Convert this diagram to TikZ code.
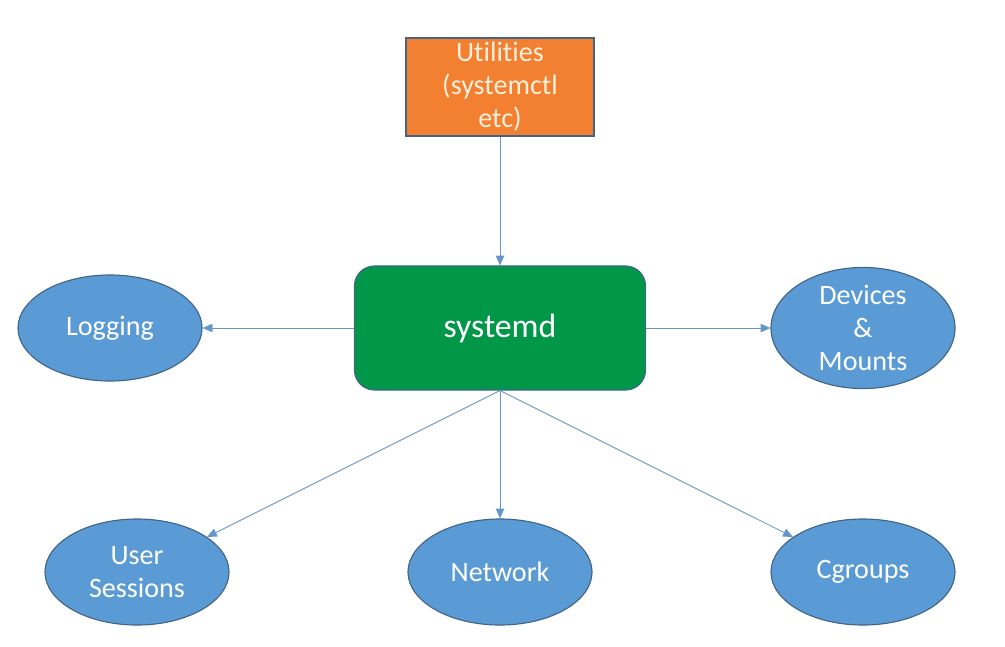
\documentclass[tikz,border=0pt]{standalone}
\usepackage{fontspec}
\setmainfont{Carlito}[Ligatures=NoCommon]
\usepackage{xcolor}
\usepackage{tikz}
\usetikzlibrary{arrows.meta}
\usetikzlibrary{shapes.geometric}
\definecolor{utilorange}{RGB}{242,128,48}
\definecolor{coregreen}{RGB}{0,152,72}
\definecolor{leafblue}{RGB}{91,155,213}
\definecolor{borderblue}{RGB}{65,100,135}
\definecolor{lineblue}{RGB}{100,150,205}
\definecolor{creamtext}{RGB}{255,240,220}
\tikzset{
    tnode/.style = {align=center, inner sep=0pt, text centered, font=\fontsize{20}{23.5}\selectfont},
    util_node/.style = {tnode, rectangle, creamtext, draw=borderblue, fill=utilorange, minimum width=4.7cm, minimum height=2.45cm, line width=0.8pt},
    core_node/.style = {tnode, rectangle, rounded corners=0.5cm, white, draw=borderblue, fill=coregreen, minimum width=7.275cm, minimum height=3.1cm, line width=0.8pt, font=\fontsize{24}{28}\selectfont},
    leaf_node/.style = {tnode, ellipse, white, draw=borderblue, fill=leafblue, minimum width=4.6cm, minimum height=2.65cm, line width=0.8pt},
    link/.style = {->, draw=lineblue, line width=0.6pt}
}

\begin{document}
\begin{tikzpicture}
            [>={Triangle[length=7pt, width=6pt]}, x=0.025cm, y=-0.025cm]

            \useasboundingbox (0,0) rectangle (1005,646);

            % top and centre
            \node [util_node] (utilities) at (500,87) {Utilities\\(systemctl\\etc)};
            \node [core_node] (systemd) at (500,328) {systemd};

            % services around systemd
            \node [leaf_node] (logging) at (110,328) {Logging};
            \node [leaf_node] (devices) at (863,328) {Devices\\\&\\Mounts};
            \node [leaf_node] (sessions) at (137,572) {User\\Sessions};
            \node [leaf_node] (network) at (500,572) {Network};
            \node [leaf_node] (cgroups) at (863,572) {Cgroups};

            \draw [link] (utilities) -- (systemd);
            \draw [link] (systemd) -- (logging);
            \draw [link] (systemd) -- (devices);
            \draw [link] (systemd.south) -- (sessions);
            \draw [link] (systemd.south) -- (network);
            \draw [link] (systemd.south) -- (cgroups);
        \end{tikzpicture}
\end{document}
